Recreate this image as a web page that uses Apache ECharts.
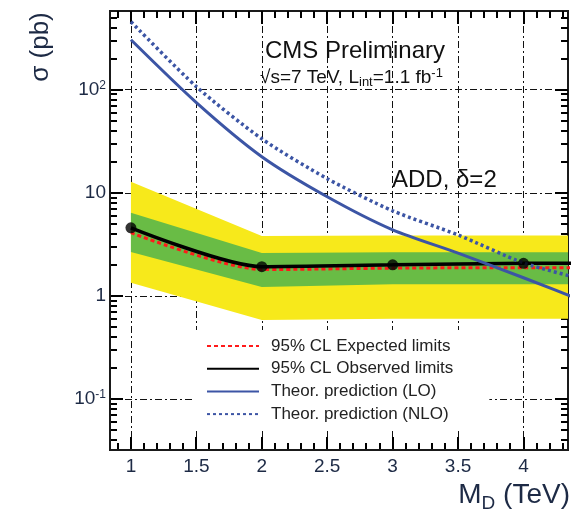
<!DOCTYPE html>
<html>
<head>
<meta charset="utf-8">
<script src="https://cdn.jsdelivr.net/npm/echarts@6/dist/echarts.min.js"></script>
<style>
  html, body { margin: 0; padding: 0; background: #ffffff; }
  #chart { width: 583px; height: 513px; }
</style>
</head>
<body>
<div id="chart"></div>
<script>
// ADD graviton search, delta = 2: cross-section limits versus M_D
const massPoints    = [1, 2, 3, 4, 4.5];
const yellowUp      = [12.8, 3.8, 3.85, 3.85, 3.85];
const greenUp       = [6.4, 2.6, 2.65, 2.65, 2.65];
const greenDown     = [2.67, 1.22, 1.3, 1.3, 1.3];
const yellowDown    = [1.34, 0.585, 0.6, 0.6, 0.6];
const expectedLimit = [4.1, 1.8, 1.86, 1.88, 1.88];
const observedLimit = [4.57, 1.92, 2.0, 2.07, 2.07];
const observedMarkerCount = 4;

const theoryMass = [1, 1.5, 2, 2.5, 3, 3.5, 4, 4.5];
const theoryLO   = [305, 75, 22.4, 9.15, 4.37, 2.6, 1.5, 0.85];
const theoryNLO  = [457, 107, 33.4, 13.7, 6.69, 3.9, 2.09, 1.4];

const xMajorTicks = [1, 1.5, 2, 2.5, 3, 3.5, 4];
const xMinorTicks = [0.9, 1.1, 1.2, 1.3, 1.4, 1.6, 1.7, 1.8, 1.9, 2.1, 2.2, 2.3, 2.4,
                     2.6, 2.7, 2.8, 2.9, 3.1, 3.2, 3.3, 3.4, 3.6, 3.7, 3.8, 3.9,
                     4.1, 4.2, 4.3];
const yMajorTicks = [0.1, 1, 10, 100];
const yTickBase   = ['10', '1', '10', '10'];
const yTickPower  = ['-1', '', '', '2'];
const yMinorTicks = [0.04, 0.05, 0.06, 0.07, 0.08, 0.09,
                     0.2, 0.3, 0.4, 0.5, 0.6, 0.7, 0.8, 0.9,
                     2, 3, 4, 5, 6, 7, 8, 9,
                     20, 30, 40, 50, 60, 70, 80, 90,
                     200, 300, 400, 500];

const X_MIN = 0.84, X_MAX = 4.34;
const Y_MIN = 0.032, Y_MAX = 580;

const FONT = 'Liberation Sans, Arial, Helvetica, sans-serif';
const INK = '#1d2a45';
const FRAME = '#1a1a1a';
const YELLOW = '#f7e91b';
const GREEN = '#69bc45';
const RED = '#ff1a1a';
const BLUE = '#3c55a5';
const GRID_DASH = [7, 3, 2, 3];

const chart = echarts.init(document.getElementById('chart'));

// filled uncertainty band between two curves, clipped to the plot area
function band(name, upper, lower, color) {
  return {
    type: 'custom', name, silent: true, z: 1,
    data: massPoints.map((m, i) => [m, lower[i], upper[i]]),
    renderItem(params, api) {
      if (params.dataIndex !== 0) return null;
      const upperPts = massPoints.map((m, i) => api.coord([m, upper[i]]));
      const lowerPts = massPoints.map((m, i) => api.coord([m, lower[i]])).reverse();
      const cs = params.coordSys;
      return {
        type: 'polygon',
        shape: { points: upperPts.concat(lowerPts) },
        style: { fill: color },
        clipPath: { type: 'rect', shape: { x: cs.x, y: cs.y, width: cs.width, height: cs.height } }
      };
    }
  };
}

chart.setOption({
  animation: false,
  grid: { left: 110, top: 11, right: 15, bottom: 63 },
  xAxis: {
    type: 'value', min: X_MIN, max: X_MAX,
    axisLine: { show: true, onZero: false, lineStyle: { color: FRAME, width: 2 } },
    axisTick: { show: false },
    axisLabel: { customValues: xMajorTicks, fontFamily: FONT, fontSize: 19, color: INK, margin: 7,
                 formatter: v => String(v) },
    splitLine: { show: true, lineStyle: { color: '#111', width: 1, type: GRID_DASH } },
    name: '{m|M}{s|D}{m| (TeV)}',
    nameLocation: 'end', nameGap: 2,
    nameTextStyle: {
      align: 'right', verticalAlign: 'top', padding: [27, 0, 0, 0],
      rich: {
        m: { fontFamily: FONT, fontSize: 28, color: INK, lineHeight: 36 },
        s: { fontFamily: FONT, fontSize: 19, color: INK, lineHeight: 19, verticalAlign: 'bottom' }
      }
    }
  },
  yAxis: {
    type: 'log', logBase: 10, min: Y_MIN, max: Y_MAX,
    axisLine: { show: true, onZero: false, lineStyle: { color: FRAME, width: 2 } },
    axisTick: { show: false },
    axisLabel: {
      customValues: yMajorTicks, margin: 4,
      formatter: v => {
        const i = yMajorTicks.findIndex(t => Math.abs(Math.log10(t) - Math.log10(v)) < 1e-6);
        if (i < 0) return '';
        return '{base|' + yTickBase[i] + '}' + (yTickPower[i] ? '{sup|' + yTickPower[i] + '}' : '');
      },
      rich: {
        base: { fontFamily: FONT, fontSize: 19, color: INK },
        sup: { fontFamily: FONT, fontSize: 12, color: INK, verticalAlign: 'top', padding: [0, 0, 9, 0] }
      }
    },
    splitLine: { show: true, lineStyle: { color: '#111', width: 1, type: GRID_DASH } }
  },
  legend: {
    data: ['95% CL Expected limits', '95% CL Observed limits',
           'Theor. prediction (LO)', 'Theor. prediction (NLO)'],
    orient: 'vertical', left: 193, top: 330,
    padding: [6, 36, 6, 13],
    backgroundColor: '#ffffff',
    itemWidth: 52, itemHeight: 14, itemGap: 2.7,
    selectedMode: false,
    itemStyle: { opacity: 0 },
    textStyle: { fontFamily: FONT, fontSize: 17, color: '#222', lineHeight: 20, padding: [0, 0, 0, 7] }
  },
  series: [
    band('±2σ', yellowUp, yellowDown, YELLOW),
    band('±1σ', greenUp, greenDown, GREEN),
    {
      type: 'line', name: '95% CL Expected limits', z: 3,
      data: massPoints.map((m, i) => [m, expectedLimit[i]]),
      symbol: 'none', smooth: 0.25,
      lineStyle: { color: RED, width: 3, type: [4, 3] }, itemStyle: { color: RED }
    },
    {
      type: 'line', name: '95% CL Observed limits', z: 4,
      data: massPoints.map((m, i) => [m, observedLimit[i]]),
      symbol: 'none', smooth: 0.25,
      lineStyle: { color: '#000', width: 3.5 }, itemStyle: { color: '#000' }
    },
    {
      type: 'line', name: 'Theor. prediction (LO)', z: 5,
      data: theoryMass.map((m, i) => [m, theoryLO[i]]),
      symbol: 'none', smooth: 0.25,
      lineStyle: { color: BLUE, width: 3 }, itemStyle: { color: BLUE }
    },
    {
      type: 'line', name: 'Theor. prediction (NLO)', z: 5,
      data: theoryMass.map((m, i) => [m, theoryNLO[i]]),
      symbol: 'none', smooth: 0.25,
      lineStyle: { color: BLUE, width: 3.5, type: [3, 3] }, itemStyle: { color: BLUE }
    },
    {
      type: 'scatter', name: 'observed points', z: 6, silent: true,
      data: massPoints.slice(0, observedMarkerCount).map((m, i) => [m, observedLimit[i]]),
      symbol: 'circle', symbolSize: 11, itemStyle: { color: '#000' }
    }
  ]
});

// frame, inward ticks on all four sides and the text annotations
function toPx(x, y) { return chart.convertToPixel({ gridIndex: 0 }, [x, y]); }
const cornerLow = toPx(X_MIN, Y_MIN);
const cornerHigh = toPx(X_MAX, Y_MAX);
const frameLeft = cornerLow[0], frameBottom = cornerLow[1];
const frameRight = cornerHigh[0], frameTop = cornerHigh[1];

const overlay = [
  { type: 'rect',
    shape: { x: frameLeft, y: frameTop, width: frameRight - frameLeft, height: frameBottom - frameTop },
    style: { fill: 'none', stroke: FRAME, lineWidth: 2 } }
];
function addXTicks(values, len) {
  values.forEach(v => {
    const x = Math.round(toPx(v, Y_MIN)[0]);
    overlay.push({ type: 'line', shape: { x1: x, y1: frameBottom, x2: x, y2: frameBottom - len },
                   style: { stroke: '#000', lineWidth: 2 } });
    overlay.push({ type: 'line', shape: { x1: x, y1: frameTop, x2: x, y2: frameTop + len },
                   style: { stroke: '#000', lineWidth: 2 } });
  });
}
function addYTicks(values, len) {
  values.forEach(v => {
    const y = Math.round(toPx(X_MIN, v)[1]);
    overlay.push({ type: 'line', shape: { x1: frameLeft, y1: y, x2: frameLeft + len, y2: y },
                   style: { stroke: '#000', lineWidth: 2 } });
    overlay.push({ type: 'line', shape: { x1: frameRight, y1: y, x2: frameRight - len, y2: y },
                   style: { stroke: '#000', lineWidth: 2 } });
  });
}
addXTicks(xMajorTicks, 13);
addXTicks(xMinorTicks, 7);
addYTicks(yMajorTicks, 13);
addYTicks(yMinorTicks, 7);

overlay.push(
  { type: 'text', x: 41, y: 47, rotation: Math.PI / 2,
    style: { text: 'σ (pb)', fontFamily: FONT, fontSize: 26, fill: INK,
             align: 'center', verticalAlign: 'middle' } },
  { type: 'text', x: 265, y: 51,
    style: { text: 'CMS Preliminary', fontFamily: FONT, fontSize: 24, fill: '#111',
             align: 'left', verticalAlign: 'middle' } },
  { type: 'text', x: 260, y: 78,
    style: { text: '{t|√s=7 TeV, L}{sub|int}{t|=1.1 fb}{sup|-1}',
             align: 'left', verticalAlign: 'middle',
             rich: {
               t: { fontFamily: FONT, fontSize: 19, fill: '#111', lineHeight: 22 },
               sub: { fontFamily: FONT, fontSize: 13, fill: '#111', lineHeight: 12, verticalAlign: 'bottom' },
               sup: { fontFamily: FONT, fontSize: 13, fill: '#111', lineHeight: 12, verticalAlign: 'top' }
             } } },
  { type: 'text', x: 392, y: 180,
    style: { text: 'ADD, δ=2', fontFamily: FONT, fontSize: 24, fill: '#111',
             align: 'left', verticalAlign: 'middle' } }
);

chart.setOption({ graphic: overlay });
</script>
</body>
</html>
